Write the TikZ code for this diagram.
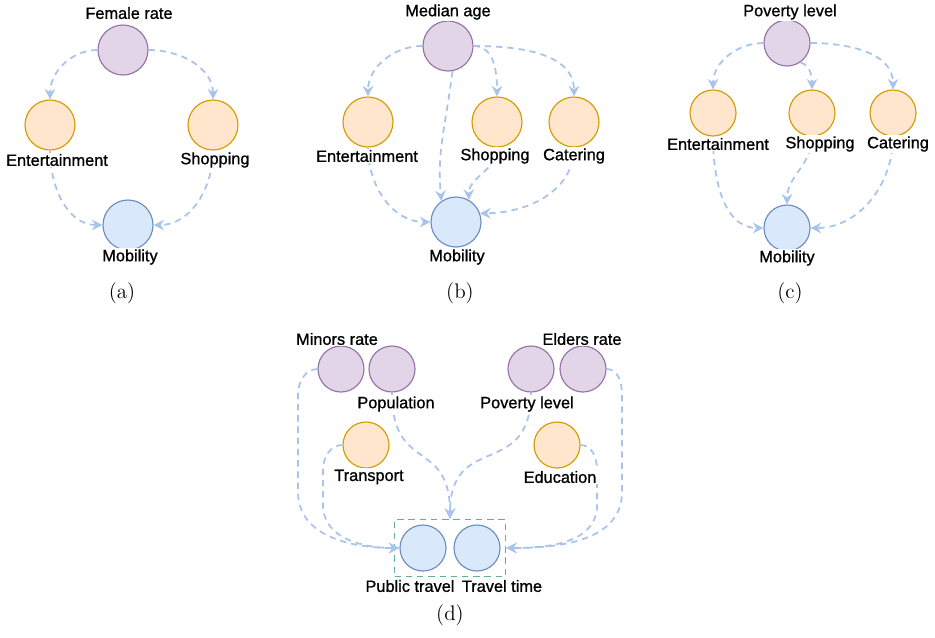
\documentclass[tikz,border=0pt]{standalone}
\usepackage{fontspec}
\newfontfamily\lblfont[FakeBold=1]{Liberation Sans}
\usetikzlibrary{arrows.meta,fit}
\definecolor{purfill}{HTML}{E1D5E7}
\definecolor{purline}{HTML}{9673A6}
\definecolor{orafill}{HTML}{FFE6CC}
\definecolor{oraline}{HTML}{D79B00}
\definecolor{blufill}{HTML}{DAE8FC}
\definecolor{bluline}{HTML}{6C8EBF}
\definecolor{edgeblue}{HTML}{A9C4EB}
\definecolor{grpline}{HTML}{67AB9F}
\begin{document}
\begin{tikzpicture}[x=0.02cm,y=-0.02cm,
	var/.style={circle,line width=0.65pt,minimum size=1cm,inner sep=0pt},
	small/.style={minimum size=0.92cm},
	pur/.style={var,draw=purline,fill=purfill},
	ora/.style={var,draw=oraline,fill=orafill},
	blu/.style={var,draw=bluline,fill=blufill},
	lbl/.style={font=\lblfont\fontsize{9.3}{11}\selectfont,inner sep=0.8pt,fill=white},
	dep/.style={draw=edgeblue,line width=1pt,dash pattern=on 3.6pt off 2.8pt,-{Stealth[length=6pt,width=6pt,inset=2pt]}},
	subcap/.style={font=\fontsize{12}{14}\selectfont},
	grpbox/.style={draw=grpline,line width=0.7pt,dash pattern=on 3.6pt off 2.8pt,inner sep=2.8pt}]
\useasboundingbox (0,0) rectangle (935,637);
\node[pur](a-fr)at(123,50){};
\node[ora](a-en)at(50,125){};
\node[ora](a-sh)at(213,125){};
\node[blu](a-mo)at(128,225){};
\draw[dep](a-fr.west)to[out=180,in=90](a-en.north);
\draw[dep](a-fr.east)to[out=0,in=90](a-sh.north);
\draw[dep](a-en.south)to[out=-90,in=180](a-mo.west);
\draw[dep](a-sh.south)to[out=-90,in=0](a-mo.east);
\node[lbl](a-fr-t)at(129,13){Female rate};
\node[lbl](a-en-t)at(57,160){Entertainment};
\node[lbl](a-sh-t)at(215,160){Shopping};
\node[lbl](a-mo-t)at(130,257){Mobility};
\node[subcap](a-cap)at(122,293){(a)};

\node[pur](b-ma)at(448,46){};
\node[ora](b-en)at(368,122){};
\node[ora](b-sh)at(497,122){};
\node[ora](b-ca)at(574,122){};
\node[blu](b-mo)at(456,222){};
\draw[dep](b-ma.west)to[out=180,in=90](b-en.north);
\draw[dep](b-ma.east)to[out=0,in=90](b-sh.north);
\draw[dep](b-ma.east)to[out=0,in=90](b-ca.north);
\draw[dep](b-ma.-80)..controls(445,130)and(437,150)..(b-mo.125);
\draw[dep](b-en.south)to[out=-90,in=180](b-mo.west);
\draw[dep](b-sh.south)to[out=-90,in=90](b-mo.60);
\draw[dep](b-ca.south)to[out=-90,in=0](b-mo.20);
\node[lbl](b-ma-t)at(448,12){Median age};
\node[lbl](b-en-t)at(367,156){Entertainment};
\node[lbl](b-sh-t)at(495,156){Shopping};
\node[lbl](b-ca-t)at(574,156){Catering};
\node[lbl](b-mo-t)at(457,257){Mobility};
\node[subcap](b-cap)at(460,293){(b)};

\node[pur,small](c-pv)at(787,43){};
\node[ora,small](c-en)at(713,113){};
\node[ora,small](c-sh)at(812,113){};
\node[ora,small](c-ca)at(893,113){};
\node[blu,small](c-mo)at(787,228){};
\draw[dep](c-pv.west)to[out=180,in=90](c-en.north);
\draw[dep](c-pv.-55)to[out=-20,in=90](c-sh.north);
\draw[dep](c-pv.east)to[out=0,in=90](c-ca.north);
\draw[dep](c-en.south)to[out=-90,in=180](c-mo.west);
\draw[dep](c-sh.south)to[out=-90,in=90](c-mo.north);
\draw[dep](c-ca.south)to[out=-90,in=0](c-mo.east);
\node[lbl](c-pv-t)at(790,12){Poverty level};
\node[lbl](c-en-t)at(718,144){Entertainment};
\node[lbl](c-sh-t)at(820,144){Shopping};
\node[lbl](c-ca-t)at(898,144){Catering};
\node[lbl](c-mo-t)at(787,258){Mobility};
\node[subcap](c-cap)at(790,293){(c)};

\node[pur,small](d-mr)at(341,369){};
\node[pur,small](d-po)at(392,369){};
\node[pur,small](d-pl)at(531,369){};
\node[pur,small](d-er)at(583,369){};
\node[ora,small](d-tr)at(366,445){};
\node[ora,small](d-ed)at(557,445){};
\node[blu,small](d-pt)at(423,548){};
\node[blu,small](d-tt)at(477,548){};
\node[grpbox,fit=(d-pt)(d-tt)](d-grp){};
\draw[dep](d-mr.west)to[out=180,in=90](298,395)--(298,492)to[out=-90,in=180](d-pt.west);
\draw[dep](d-tr.west)to[out=180,in=90](323,470)--(323,505)to[out=-90,in=180](d-pt.west);
\draw[dep](d-po.south)to[out=-90,in=90,looseness=1.5](d-grp.north);
\draw[dep](d-pl.south)to[out=-90,in=90,looseness=1.5](d-grp.north);
\draw[dep](d-er.east)to[out=0,in=90](622,395)--(622,492)to[out=-90,in=0](d-grp.east);
\draw[dep](d-ed.east)to[out=0,in=90](597,470)--(597,505)to[out=-90,in=0](d-grp.east);
\node[lbl](d-mr-t)at(337,339){Minors rate};
\node[lbl](d-po-t)at(396,404){Population};
\node[lbl](d-pl-t)at(527,404){Poverty level};
\node[lbl](d-er-t)at(582,339){Elders rate};
\node[lbl](d-tr-t)at(369,477){Transport};
\node[lbl](d-ed-t)at(560,477){Education};
\node[lbl](d-pt-t)at(410,586){Public travel};
\node[lbl](d-tt-t)at(502,586){Travel time};
\node[subcap](d-cap)at(450,615){(d)};
\end{tikzpicture}
\end{document}
